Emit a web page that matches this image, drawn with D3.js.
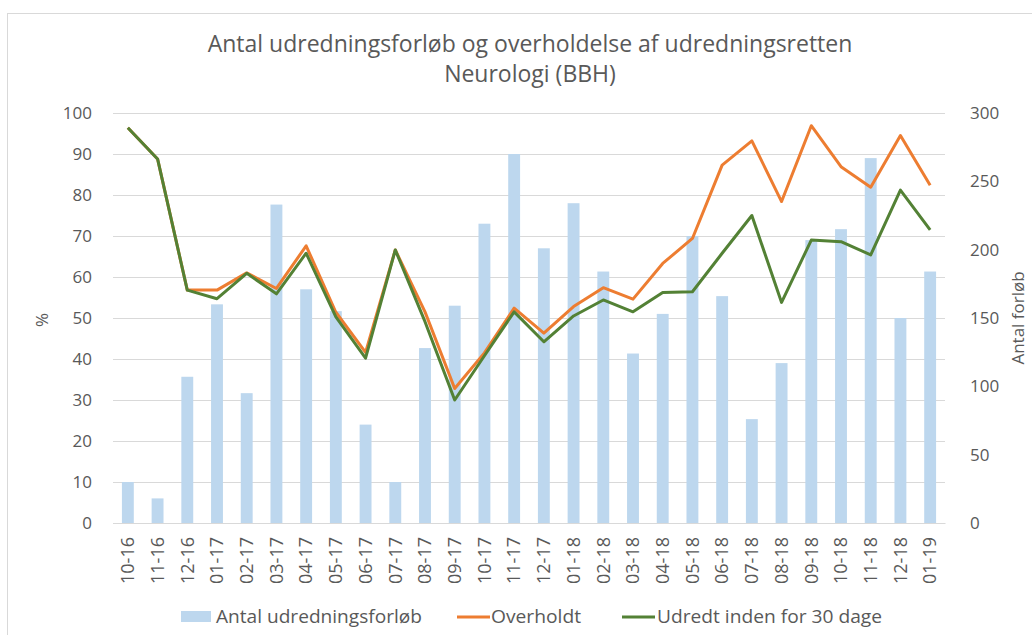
<!DOCTYPE html>
<html>
<head>
<meta charset="utf-8">
<script src="https://cdn.jsdelivr.net/npm/d3@7"></script>
<style>
  body { margin: 0; background: #fff; }
  text { fill: #595959; }
</style>
</head>
<body>
<div id="chart"></div>
<script>
// data
const months = ["10-16","11-16","12-16","01-17","02-17","03-17","04-17","05-17","06-17","07-17",
  "08-17","09-17","10-17","11-17","12-17","01-18","02-18","03-18","04-18","05-18",
  "06-18","07-18","08-18","09-18","10-18","11-18","12-18","01-19"];
const antal = [30,18,107,160,95,233,171,155,72,30,128,159,219,270,201,234,184,124,153,210,166,76,117,207,215,267,150,184];
const overholdt = [96.4,88.8,56.8,56.8,61.0,57.2,67.6,51.4,41.6,66.6,51.5,32.8,41.5,52.4,46.3,52.8,57.4,54.6,63.3,69.4,87.3,93.2,78.4,96.9,86.9,81.9,94.5,82.4];
const udredt = [96.4,88.8,56.8,54.7,60.9,55.9,65.8,50.3,40.2,66.6,49.1,30.0,40.8,51.5,44.2,50.5,54.4,51.5,56.2,56.4,65.8,75.0,53.8,69.0,68.6,65.4,81.2,71.5];
const leftTicks = [0,10,20,30,40,50,60,70,80,90,100];
const rightTicks = [0,50,100,150,200,250,300];

const w = 1032, h = 635;
const margin = { top: 113, right: 87, bottom: 112, left: 113 };
const innerW = w - margin.left - margin.right;
const innerH = h - margin.top - margin.bottom;

const svg = d3.select("#chart").append("svg")
  .attr("width", w).attr("height", h)
  .style("font-family", "'Open Sans', sans-serif");

// chart border
svg.append("rect")
  .attr("x", 7.5).attr("y", 13.5)
  .attr("width", w + 10).attr("height", h + 10)
  .attr("fill", "none").attr("stroke", "#d9d9d9");

const x = d3.scaleBand().domain(months).range([0, innerW]).paddingInner(0.6).paddingOuter(0.3);
const yL = d3.scaleLinear().domain([0, 100]).range([innerH, 0]);
const yR = d3.scaleLinear().domain([0, 300]).range([innerH, 0]);

const g = svg.append("g").attr("transform", `translate(${margin.left},${margin.top})`);

// gridlines
g.append("g")
  .call(d3.axisLeft(yL).tickValues(leftTicks).tickSize(-innerW).tickFormat(""))
  .call(s => s.select(".domain").remove())
  .selectAll("line").attr("stroke", "#d9d9d9");

// bars
g.selectAll(".bar").data(antal).enter().append("rect")
  .attr("class", "bar")
  .attr("x", (d, i) => x(months[i]))
  .attr("y", d => yR(d))
  .attr("width", x.bandwidth())
  .attr("height", d => innerH - yR(d))
  .attr("fill", "#bdd7ee");

const cx = (d, i) => x(months[i]) + x.bandwidth() / 2;
const line = d3.line().x(cx).y(d => yL(d));

g.append("path").datum(overholdt)
  .attr("d", line).attr("fill", "none")
  .attr("stroke", "#ed7d31").attr("stroke-width", 3).attr("stroke-linejoin", "round");
g.append("path").datum(udredt)
  .attr("d", line).attr("fill", "none")
  .attr("stroke", "#538135").attr("stroke-width", 3).attr("stroke-linejoin", "round");

// left axis
const axL = g.append("g")
  .call(d3.axisLeft(yL).tickValues(leftTicks).tickSize(0).tickPadding(21));
axL.select(".domain").remove();
axL.selectAll("text").style("font-size", "17px").style("font-family", "'Open Sans', sans-serif").attr("fill", "#595959");

// right axis
const axR = g.append("g").attr("transform", `translate(${innerW},0)`)
  .call(d3.axisRight(yR).tickValues(rightTicks).tickSize(0).tickPadding(25));
axR.select(".domain").remove();
axR.selectAll("text").style("font-size", "17px").style("font-family", "'Open Sans', sans-serif").attr("fill", "#595959");

// x axis
const axX = g.append("g").attr("transform", `translate(0,${innerH})`)
  .call(d3.axisBottom(x).tickSize(0));
axX.select(".domain").attr("stroke", "#d9d9d9");
axX.selectAll("text")
  .style("font-size", "18px").style("font-family", "'Open Sans', sans-serif").attr("fill", "#595959")
  .attr("transform", "rotate(-90)")
  .attr("text-anchor", "end")
  .attr("x", -14).attr("y", 0).attr("dy", "0.35em");

// axis titles
svg.append("text")
  .attr("transform", "translate(48,320) rotate(-90)")
  .attr("text-anchor", "middle")
  .style("font-size", "17px")
  .text("%");
svg.append("text")
  .attr("transform", "translate(1024,318) rotate(-90)")
  .attr("text-anchor", "middle")
  .style("font-size", "17px")
  .text("Antal forløb");

// title
const title = svg.append("text").attr("text-anchor", "middle")
  .style("font-size", "23px");
title.append("tspan").attr("x", 530).attr("y", 52).text("Antal udredningsforløb og overholdelse af udredningsretten");
title.append("tspan").attr("x", 530).attr("y", 82).text("Neurologi (BBH)");

// legend (text squeezed to the narrow width of the original font)
const legend = svg.append("g").style("font-size", "19px");
legend.append("rect").attr("x", 181).attr("y", 611).attr("width", 30).attr("height", 11).attr("fill", "#bdd7ee");
legend.append("text").attr("x", 216).attr("y", 623)
  .attr("textLength", 206).attr("lengthAdjust", "spacingAndGlyphs").text("Antal udredningsforløb");
legend.append("line").attr("x1", 457).attr("x2", 490).attr("y1", 617).attr("y2", 617)
  .attr("stroke", "#ed7d31").attr("stroke-width", 3);
legend.append("text").attr("x", 491).attr("y", 623)
  .attr("textLength", 90).attr("lengthAdjust", "spacingAndGlyphs").text("Overholdt");
legend.append("line").attr("x1", 622).attr("x2", 655).attr("y1", 617).attr("y2", 617)
  .attr("stroke", "#538135").attr("stroke-width", 3);
legend.append("text").attr("x", 657).attr("y", 623)
  .attr("textLength", 225).attr("lengthAdjust", "spacingAndGlyphs").text("Udredt inden for 30 dage");
</script>
</body>
</html>
